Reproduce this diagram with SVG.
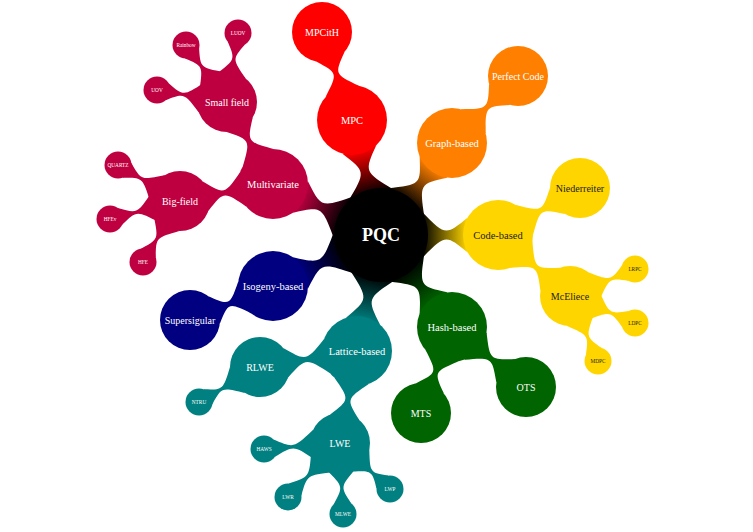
<svg xmlns="http://www.w3.org/2000/svg" width="753" height="532" viewBox="0 0 753 532">
<defs>
<linearGradient id="gR" x1="0" y1="0" x2="1" y2="0"><stop offset="0" stop-color="#000"/><stop offset="1" stop-color="#FF0000"/></linearGradient>
<linearGradient id="gO" x1="0" y1="0" x2="1" y2="0"><stop offset="0" stop-color="#000"/><stop offset="1" stop-color="#FF8000"/></linearGradient>
<linearGradient id="gY" x1="0" y1="0" x2="1" y2="0"><stop offset="0" stop-color="#000"/><stop offset="1" stop-color="#FFD500"/></linearGradient>
<linearGradient id="gG" x1="0" y1="0" x2="1" y2="0"><stop offset="0" stop-color="#000"/><stop offset="1" stop-color="#006400"/></linearGradient>
<linearGradient id="gT" x1="0" y1="0" x2="1" y2="0"><stop offset="0" stop-color="#000"/><stop offset="1" stop-color="#008080"/></linearGradient>
<linearGradient id="gN" x1="0" y1="0" x2="1" y2="0"><stop offset="0" stop-color="#000"/><stop offset="1" stop-color="#000080"/></linearGradient>
<linearGradient id="gP" x1="0" y1="0" x2="1" y2="0"><stop offset="0" stop-color="#000"/><stop offset="1" stop-color="#BF0040"/></linearGradient>
</defs>
<style>
text{font-family:"Liberation Serif","DejaVu Serif",serif;text-anchor:middle;fill:#fff}
.l1{font-size:10.5px}
.l2{font-size:10px}
.l3{font-size:5.3px}
.dk{fill:#222}
.root{font-size:18px;font-weight:bold}
.red{fill:#FF0000}.org{fill:#FF8000}.yel{fill:#FFD500}.grn{fill:#006400}.tea{fill:#008080}.nav{fill:#000080}.pur{fill:#BF0040}
</style>
<rect width="753" height="532" fill="#fff"/>
<g id="connectors">
<path fill="url(#gR)" transform="translate(381,235) rotate(-104.15)" d="M40.7,23.5 C65.3,-0.8 65.3,-0.8 88.3,17.5 L88.3,-17.5 C65.3,0.8 65.3,0.8 40.7,-23.5 Z"/>
<path fill="url(#gO)" transform="translate(381,235) rotate(-52.34)" d="M40.7,23.5 C64.1,-0.8 64.1,-0.8 85.9,17.5 L85.9,-17.5 C64.1,0.8 64.1,0.8 40.7,-23.5 Z"/>
<path fill="url(#gY)" transform="translate(381,235) rotate(0)" d="M40.7,23.5 C64.5,-0.8 64.5,-0.8 86.7,17.5 L86.7,-17.5 C64.5,0.8 64.5,0.8 40.7,-23.5 Z"/>
<path fill="url(#gG)" transform="translate(381,235) rotate(52.34)" d="M40.7,23.5 C64.1,-0.8 64.1,-0.8 85.9,17.5 L85.9,-17.5 C64.1,0.8 64.1,0.8 40.7,-23.5 Z"/>
<path fill="url(#gT)" transform="translate(381,235) rotate(101.69)" d="M40.7,23.5 C65.3,-0.8 65.3,-0.8 88.2,17.5 L88.2,-17.5 C65.3,0.8 65.3,0.8 40.7,-23.5 Z"/>
<path fill="url(#gN)" transform="translate(381,235) rotate(154.72)" d="M40.7,23.5 C65.7,-0.8 65.7,-0.8 89.1,17.5 L89.1,-17.5 C65.7,0.8 65.7,0.8 40.7,-23.5 Z"/>
<path fill="url(#gP)" transform="translate(381,235) rotate(-154.72)" d="M40.7,23.5 C65.7,-0.8 65.7,-0.8 89.1,17.5 L89.1,-17.5 C65.7,0.8 65.7,0.8 40.7,-23.5 Z"/>

<path class="red" transform="translate(352,120) rotate(-108.82)" d="M30.3,17.5 C49,-1.8 49,-1.8 67,15 L67,-15 C49,1.8 49,1.8 30.3,-17.5 Z"/>
<path class="org" transform="translate(452,143) rotate(-45.43)" d="M30.3,17.5 C49.5,-1.8 49.5,-1.8 68,15 L68,-15 C49.5,1.8 49.5,1.8 30.3,-17.5 Z"/>
<path class="yel" transform="translate(498,235) rotate(-29.82)" d="M30.3,17.5 C49.75,-1.8 49.75,-1.8 68.5,15 L68.5,-15 C49.75,1.8 49.75,1.8 30.3,-17.5 Z"/>
<path class="yel" transform="translate(498,235) rotate(40.27)" d="M30.3,17.5 C49.7,-1.8 49.7,-1.8 68.4,15 L68.4,-15 C49.7,1.8 49.7,1.8 30.3,-17.5 Z"/>
<path class="grn" transform="translate(452,327) rotate(39.04)" d="M30.3,17.5 C50.15,-1.8 50.15,-1.8 69.3,15 L69.3,-15 C50.15,1.8 50.15,1.8 30.3,-17.5 Z"/>
<path class="grn" transform="translate(452,327) rotate(109.83)" d="M30.3,17.5 C48.2,-1.8 48.2,-1.8 65.4,15 L65.4,-15 C48.2,1.8 48.2,1.8 30.3,-17.5 Z"/>
<path class="tea" transform="translate(357,351) rotate(170.63)" d="M30.3,17.5 C51.65,-1.8 51.65,-1.8 72.3,15 L72.3,-15 C51.65,1.8 51.65,1.8 30.3,-17.5 Z"/>
<path class="tea" transform="translate(357,351) rotate(100.47)" d="M30.3,17.5 C49.3,-1.8 49.3,-1.8 67.6,15 L67.6,-15 C49.3,1.8 49.3,1.8 30.3,-17.5 Z"/>
<path class="nav" transform="translate(273,286) rotate(157.72)" d="M30.3,17.5 C47.35,-1.8 47.35,-1.8 63.7,15 L63.7,-15 C47.35,1.8 47.35,1.8 30.3,-17.5 Z"/>
<path class="pur" transform="translate(273,184) rotate(-119.30)" d="M30.3,17.5 C49.5,-1.8 49.5,-1.8 68,15 L68,-15 C49.5,1.8 49.5,1.8 30.3,-17.5 Z"/>
<path class="pur" transform="translate(273,184) rotate(169.64)" d="M30.3,17.5 C49.75,-1.8 49.75,-1.8 68.5,15 L68.5,-15 C49.75,1.8 49.75,1.8 30.3,-17.5 Z"/>

<path class="yel" transform="translate(570,296) rotate(-22.55)" d="M26,15 C43.45,-1.55 43.45,-1.55 60.1,8.7 L60.1,-8.7 C43.45,1.55 43.45,1.55 26,-15 Z"/>
<path class="yel" transform="translate(570,296) rotate(22.55)" d="M26,15 C43.45,-1.55 43.45,-1.55 60.1,8.7 L60.1,-8.7 C43.45,1.55 43.45,1.55 26,-15 Z"/>
<path class="yel" transform="translate(570,296) rotate(66.70)" d="M26,15 C43.65,-1.55 43.65,-1.55 60.5,8.7 L60.5,-8.7 C43.65,1.55 43.65,1.55 26,-15 Z"/>
<path class="tea" transform="translate(260,367) rotate(150.15)" d="M26,15 C43.4,-1.55 43.4,-1.55 60,8.7 L60,-8.7 C43.4,1.55 43.4,1.55 26,-15 Z"/>
<path class="tea" transform="translate(340,443) rotate(175.49)" d="M26,15 C46.35,-1.55 46.35,-1.55 65.9,8.7 L65.9,-8.7 C46.35,1.55 46.35,1.55 26,-15 Z"/>
<path class="tea" transform="translate(340,443) rotate(133.92)" d="M26,15 C45.75,-1.55 45.75,-1.55 64.7,8.7 L64.7,-8.7 C45.75,1.55 45.75,1.55 26,-15 Z"/>
<path class="tea" transform="translate(340,443) rotate(87.58)" d="M26,15 C43.8,-1.55 43.8,-1.55 60.8,8.7 L60.8,-8.7 C43.8,1.55 43.8,1.55 26,-15 Z"/>
<path class="tea" transform="translate(340,443) rotate(42.61)" d="M26,15 C42.2,-1.55 42.2,-1.55 57.6,8.7 L57.6,-8.7 C42.2,1.55 42.2,1.55 26,-15 Z"/>
<path class="pur" transform="translate(180,201) rotate(-149.86)" d="M26,15 C44.1,-1.55 44.1,-1.55 61.4,8.7 L61.4,-8.7 C44.1,1.55 44.1,1.55 26,-15 Z"/>
<path class="pur" transform="translate(180,201) rotate(165.58)" d="M26,15 C44.4,-1.55 44.4,-1.55 62,8.7 L62,-8.7 C44.4,1.55 44.4,1.55 26,-15 Z"/>
<path class="pur" transform="translate(180,201) rotate(121.24)" d="M26,15 C43.9,-1.55 43.9,-1.55 61,8.7 L61,-8.7 C43.9,1.55 43.9,1.55 26,-15 Z"/>
<path class="pur" transform="translate(227,102) rotate(-80.94)" d="M26,15 C43.2,-1.55 43.2,-1.55 59.6,8.7 L59.6,-8.7 C43.2,1.55 43.2,1.55 26,-15 Z"/>
<path class="pur" transform="translate(227,102) rotate(-125.73)" d="M26,15 C43.35,-1.55 43.35,-1.55 59.9,8.7 L59.9,-8.7 C43.35,1.55 43.35,1.55 26,-15 Z"/>
<path class="pur" transform="translate(227,102) rotate(-170.27)" d="M26,15 C43.75,-1.55 43.75,-1.55 60.7,8.7 L60.7,-8.7 C43.75,1.55 43.75,1.55 26,-15 Z"/>
</g>

<g id="pqc"><circle cx="381" cy="235" r="47" fill="#000"/><text class="root" x="381" y="241">PQC</text></g>

<g id="mpc"><circle class="red" cx="352" cy="120" r="35"/><text class="l1" x="352" y="124">MPC</text></g>
<g id="mpcith"><circle class="red" cx="322" cy="32" r="30"/><text class="l2" x="322" y="36">MPCitH</text></g>

<g id="graph-based"><circle class="org" cx="452" cy="143" r="35"/><text class="l1" x="452" y="147">Graph-based</text></g>
<g id="perfect-code"><circle class="org" cx="518" cy="76" r="30"/><text class="l2" x="518" y="80">Perfect Code</text></g>

<g id="code-based"><circle class="yel" cx="498" cy="235" r="35"/><text class="l1 dk" x="498" y="239">Code-based</text></g>
<g id="niederreiter"><circle class="yel" cx="580" cy="188" r="30"/><text class="l2 dk" x="580" y="192">Niederreiter</text></g>
<g id="mceliece"><circle class="yel" cx="570" cy="296" r="30"/><text class="l2 dk" x="570" y="300">McEliece</text></g>
<g id="lrpc"><circle class="yel" cx="635" cy="269" r="13.5"/><text class="l3 dk" x="635" y="270.8">LRPC</text></g>
<g id="ldpc"><circle class="yel" cx="635" cy="323" r="13.5"/><text class="l3 dk" x="635" y="324.8">LDPC</text></g>
<g id="mdpc"><circle class="yel" cx="598" cy="361" r="13.5"/><text class="l3 dk" x="598" y="362.8">MDPC</text></g>

<g id="hash-based"><circle class="grn" cx="452" cy="327" r="35"/><text class="l1" x="452" y="331">Hash-based</text></g>
<g id="ots"><circle class="grn" cx="526" cy="387" r="30"/><text class="l2" x="526" y="391">OTS</text></g>
<g id="mts"><circle class="grn" cx="421" cy="413" r="30"/><text class="l2" x="421" y="417">MTS</text></g>

<g id="lattice-based"><circle class="tea" cx="357" cy="351" r="35"/><text class="l1" x="357" y="355">Lattice-based</text></g>
<g id="rlwe"><circle class="tea" cx="260" cy="367" r="30"/><text class="l2" x="260" y="371">RLWE</text></g>
<g id="ntru"><circle class="tea" cx="199" cy="402" r="13.5"/><text class="l3" x="199" y="403.8">NTRU</text></g>
<g id="lwe"><circle class="tea" cx="340" cy="443" r="30"/><text class="l2" x="340" y="447">LWE</text></g>
<g id="haws"><circle class="tea" cx="264" cy="449" r="13.5"/><text class="l3" x="264" y="450.8">HAWS</text></g>
<g id="lwr"><circle class="tea" cx="288" cy="497" r="13.5"/><text class="l3" x="288" y="498.8">LWR</text></g>
<g id="mlwe"><circle class="tea" cx="343" cy="514" r="13.5"/><text class="l3" x="343" y="515.8">MLWE</text></g>
<g id="lwp"><circle class="tea" cx="390" cy="489" r="13.5"/><text class="l3" x="390" y="490.8">LWP</text></g>

<g id="isogeny-based"><circle class="nav" cx="273" cy="286" r="35"/><text class="l1" x="273" y="290">Isogeny-based</text></g>
<g id="supersigular"><circle class="nav" cx="190" cy="320" r="30"/><text class="l2" x="190" y="324">Supersigular</text></g>

<g id="multivariate"><circle class="pur" cx="273" cy="184" r="35"/><text class="l1" x="273" y="188">Multivariate</text></g>
<g id="small-field"><circle class="pur" cx="227" cy="102" r="30"/><text class="l2" x="227" y="106">Small field</text></g>
<g id="big-field"><circle class="pur" cx="180" cy="201" r="30"/><text class="l2" x="180" y="205">Big-field</text></g>
<g id="luov"><circle class="pur" cx="238" cy="33" r="13.5"/><text class="l3" x="238" y="34.8">LUOV</text></g>
<g id="rainbow"><circle class="pur" cx="186" cy="45" r="13.5"/><text class="l3" x="186" y="46.8">Rainbow</text></g>
<g id="uov"><circle class="pur" cx="157" cy="90" r="13.5"/><text class="l3" x="157" y="91.8">UOV</text></g>
<g id="quartz"><circle class="pur" cx="118" cy="165" r="13.5"/><text class="l3" x="118" y="166.8">QUARTZ</text></g>
<g id="hfev"><circle class="pur" cx="110" cy="219" r="13.5"/><text class="l3" x="110" y="220.8">HFEv</text></g>
<g id="hfe"><circle class="pur" cx="143" cy="262" r="13.5"/><text class="l3" x="143" y="263.8">HFE</text></g>
</svg>
